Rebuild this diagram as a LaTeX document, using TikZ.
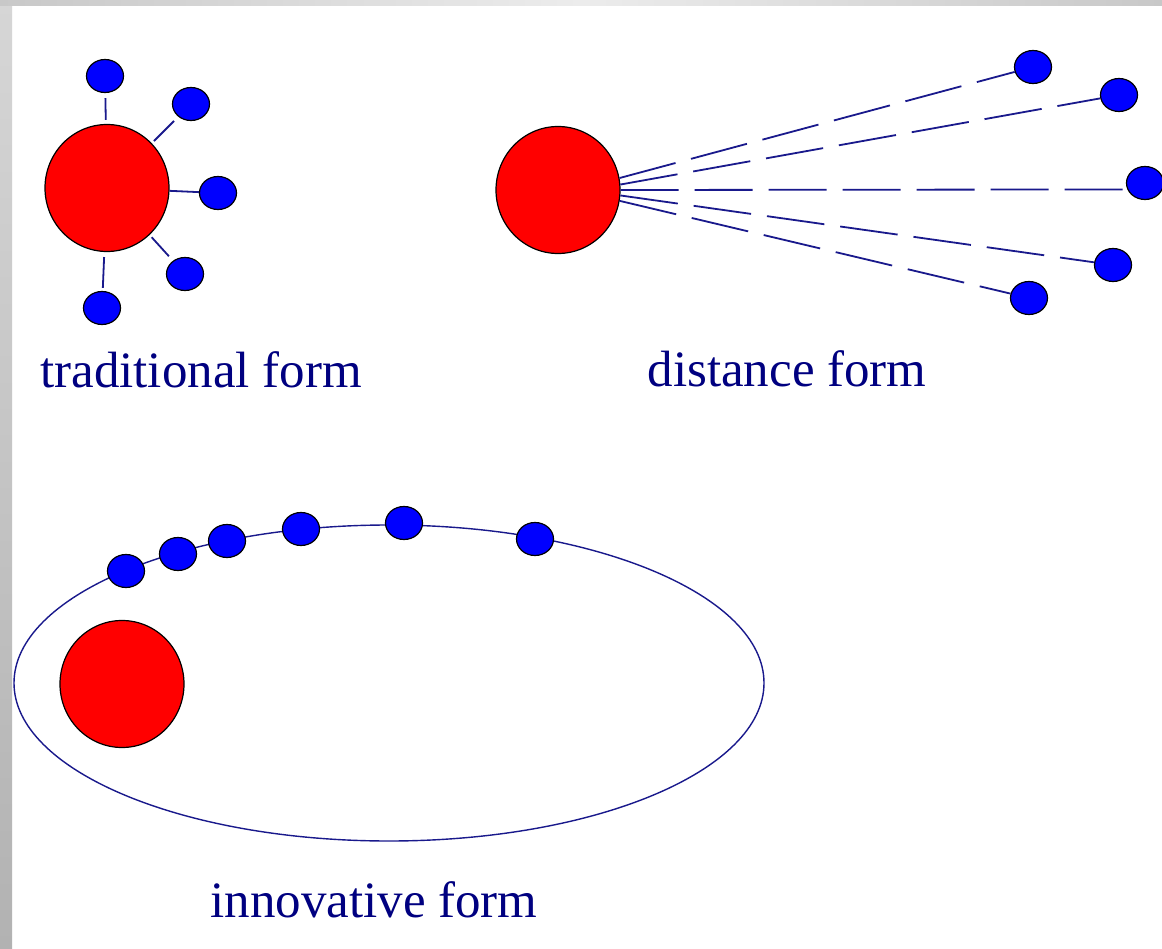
\documentclass[tikz,border=0pt]{standalone}
\usepackage{fontspec}
\setmainfont{Liberation Serif}
\usetikzlibrary{shapes.geometric}
\definecolor{navy}{RGB}{0,0,128}
\definecolor{linenavy}{RGB}{25,25,140}
\definecolor{dotblue}{RGB}{0,0,255}
\definecolor{bigred}{RGB}{255,0,0}
\tikzset{
  bigdisc/.style={ellipse, fill=bigred, draw=black, line width=1.2pt, minimum width=124pt, minimum height=127pt, inner sep=0pt},
  smalldot/.style={ellipse, fill=dotblue, draw=black, line width=1.2pt, minimum width=37pt, minimum height=33pt, inner sep=0pt},
  spoke/.style={draw=linenavy, line width=1.8pt},
  farline/.style={draw=linenavy, line width=1.8pt, dash pattern=on 58pt off 16pt},
  caption/.style={text=navy, anchor=base, inner sep=0pt, font=\fontsize{51}{60}\selectfont},
  orbitline/.style={ellipse, draw=linenavy, line width=1.4pt, minimum width=750pt, minimum height=316pt, inner sep=0pt}
}
\begin{document}
\begin{tikzpicture}[x=1pt, y=-1pt]
\useasboundingbox (0,0) rectangle (1162,949);
\fill[white] (0,0) rectangle (1162,949);
% frame bands
\shade[top color={rgb,255:red,214;green,214;blue,214}, bottom color={rgb,255:red,178;green,178;blue,178}] (0,0) rectangle (12,949);
\shade[left color={rgb,255:red,200;green,200;blue,200}, right color={rgb,255:red,200;green,200;blue,200}, middle color={rgb,255:red,236;green,236;blue,236}] (0,0) rectangle (1162,6);

% ---------- traditional form ----------
\node[bigdisc] (tc) at (107,188) {};
\node[smalldot] (t1) at (105,76) {};
\node[smalldot] (t2) at (191,104) {};
\node[smalldot] (t3) at (218,193) {};
\node[smalldot] (t4) at (185,274) {};
\node[smalldot] (t5) at (102,308) {};
\draw[spoke, shorten <=4pt, shorten >=5pt] (tc) -- (t1);
\draw[spoke, shorten <=3pt, shorten >=6pt] (tc) -- (t2);
\draw[spoke, shorten <=0pt, shorten >=0pt] (tc) -- (t3);
\draw[spoke, shorten <=3pt, shorten >=6pt] (tc) -- (t4);
\draw[spoke, shorten <=5pt, shorten >=3pt] (tc) -- (t5);
\node[caption] (tlab) at (201,388) {traditional form};

% ---------- distance form ----------
\node[bigdisc] (dc) at (558,190) {};
\node[smalldot] (d1) at (1033,67) {};
\node[smalldot] (d2) at (1119,95) {};
\node[smalldot] (d3) at (1145,183) {};
\node[smalldot] (d4) at (1113,265) {};
\node[smalldot] (d5) at (1029,298) {};
\draw[farline] (dc.11) -- (d1);
\draw[farline] (dc.5) -- (d2);
\draw[farline] (dc.east) -- (d3.200);
\draw[farline] (dc.-5) -- (d4);
\draw[farline] (dc.-10) -- (d5);
\node[caption] (dlab) at (787,387) {distance form};

% ---------- innovative form ----------
\node[orbitline] (orbit) at (389,683) {};
\node[bigdisc] (ic) at (122,684) {};
\node[smalldot] (o1) at (126,571) {};
\node[smalldot] (o2) at (178,554) {};
\node[smalldot] (o3) at (227,541) {};
\node[smalldot] (o4) at (301,529) {};
\node[smalldot] (o5) at (404,523) {};
\node[smalldot] (o6) at (535,539) {};
\node[caption] (ilab) at (374,917) {innovative form};
\end{tikzpicture}
\end{document}
